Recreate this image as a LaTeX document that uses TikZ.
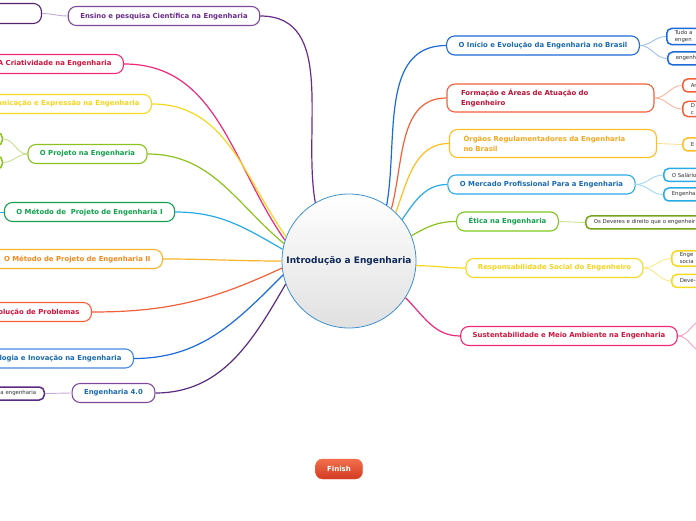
\documentclass[tikz,border=0pt]{standalone}
\usepackage{fontspec}
\setmainfont{DejaVu Sans}
\definecolor{cPurp}{HTML}{6A2A8A}
\definecolor{cLPurp}{HTML}{C4AAD6}
\definecolor{cVio}{HTML}{5A2A80}
\definecolor{cPink}{HTML}{F0287A}
\definecolor{cLPink}{HTML}{F7A0C4}
\definecolor{cCrim}{HTML}{D0143C}
\definecolor{cYel}{HTML}{F5D820}
\definecolor{cLYel}{HTML}{F8E98A}
\definecolor{cOli}{HTML}{8CC21E}
\definecolor{cLOli}{HTML}{C6E08E}
\definecolor{cGrn}{HTML}{12A04C}
\definecolor{cSky}{HTML}{28AAE8}
\definecolor{cLSky}{HTML}{A0D8F4}
\definecolor{cOrg}{HTML}{F8B428}
\definecolor{cLOrg}{HTML}{FBDD94}
\definecolor{cOTx}{HTML}{F08A1E}
\definecolor{cAmb}{HTML}{FFBE22}
\definecolor{cATx}{HTML}{F5A820}
\definecolor{cTan}{HTML}{F2603A}
\definecolor{cLTan}{HTML}{F8B4A0}
\definecolor{cBlu}{HTML}{1A6AD8}
\definecolor{cLBlu}{HTML}{9CC0F0}
\definecolor{cBTx}{HTML}{1A6AB0}
\definecolor{cNavy}{HTML}{0F2A5A}
\definecolor{cRing}{HTML}{3A90D0}
\definecolor{cDim}{HTML}{333333}

\begin{document}
\begin{tikzpicture}[x=1pt,y=1pt,
  mn/.style 2 args={draw=#1,text=#2,fill=white,rounded corners=8pt,line width=1.1pt,
              minimum height=19pt,inner xsep=12pt,font=\bfseries\fontsize{6.9}{10.5}\selectfont},
  tw/.style={text width=179pt,align=left,inner xsep=14pt,minimum height=28pt},
  lf/.style={draw=#1,fill=white,rounded corners=5pt,line width=1.5pt,minimum height=13pt,
              inner xsep=8pt,inner ysep=2pt,text=cDim,font=\fontsize{5.4}{7}\selectfont},
  lw/.style={lf=#1,anchor=west,text width=60pt,align=left},
  ln/.style={draw=#1,line width=1.2pt},
  lk/.style={draw=#1,line width=0.9pt}
]
\clip (0,0) rectangle (696,520);
\node[circle,draw=cRing,line width=0.8pt,top color=white,bottom color=black!12,minimum size=134pt,
      inner sep=0pt,text=cNavy,font=\bfseries\fontsize{9}{11}\selectfont] (c) at (349,259) {Introdução a Engenharia};

\node[mn={cPurp!80!black}{cPurp},anchor=east,minimum width=70pt,minimum height=20pt] (tr) at (42,506.5) {};
\node[mn={cPurp!85}{cPurp}] (ens) at (164,504) {Ensino e pesquisa Científica na Engenharia};
\node[mn={cPink}{cCrim},anchor=east] (cri) at (124,456) {A Criatividade na Engenharia};
\node[mn={cYel}{cYel!95!orange},anchor=east] (com) at (152,416) {Comunicação e Expressão na Engenharia};
\node[mn={cOli}{cGrn}] (pro) at (87.5,366) {O Projeto na Engenharia};
\node[lf=cOli,anchor=east,minimum width=24pt] (pl1) at (3,381) {};
\node[lf=cOli,anchor=east,minimum width=24pt] (pl2) at (3,357.5) {};
\node[mn={cGrn}{cGrn}] (m1) at (89.5,308) {O Método de~ Projeto de Engenharia I};
\coordinate (m1l) at (-15,308);
\node[mn={cOrg}{cOTx},anchor=east] (m2) at (163,261) {O Método de Projeto de Engenharia II};
\node[mn={cTan}{cCrim},anchor=east] (res) at (92,208) {Resolução de Problemas};
\node[mn={cBlu!80}{cBTx},anchor=east] (tec) at (134,161.5) {Tecnologia e Inovação na Engenharia};
\node[mn={cPurp!85}{cBTx}] (e40) at (113.5,127) {Engenharia 4.0};
\node[lf=cVio,anchor=east,text width=60pt,align=right] (e4l) at (45,126.5) {a engenharia};

\node[mn={cBlu}{cBTx}] (ini) at (543,474.5) {O Início e Evolução da Engenharia no Brasil};
\node[lw=cBlu] (ini1) at (666,483.5) {Tudo a\\engen};
\node[lw=cBlu] (ini2) at (667,461.5) {engenha};
\node[mn={cTan}{cCrim!90!black},tw] (for) at (550.5,422) {Formação e Áreas de Atuação do\\Engenheiro};
\node[lw=cTan] (for1) at (682,434.5) {Ar};
\node[lw=cTan] (for2) at (682,411) {D\\c};
\node[mn={cAmb}{cATx},tw] (org) at (553,376.5) {Órgãos Regulamentadores da Engenharia\\no Brasil};
\node[lw=cAmb] (org1) at (682,375.5) {E};
\node[mn={cSky}{cBTx}] (mer) at (541.5,335.5) {O Mercado Profissional Para a Engenharia};
\node[lw=cSky] (mer1) at (663,345) {O Salário};
\node[lw=cSky] (mer2) at (663,325.5) {Engenha};
\node[mn={cOli!90!green}{cGrn}] (eti) at (507.5,298.5) {Ética na Engenharia};
\node[lf=cOli!85!black,anchor=west,text width=130pt,align=left] (eti1) at (585,297.5) {Os Deveres e direito que o engenheir};
\node[mn={cYel}{cYel!95!orange}] (soc) at (554.5,252) {Responsabilidade Social do Engenheiro};
\node[lw=cYel] (soc1) at (671,261.5) {Enge\\socia};
\node[lw=cYel] (soc2) at (671,239) {Deve-};
\node[mn={cPink}{cCrim}] (sus) at (569,184) {Sustentabilidade e Meio Ambiente na Engenharia};
\coordinate (sus1) at (704,200);
\coordinate (sus2) at (704,168);

\node[draw=cTan,top color=cTan!90!white,bottom color=cTan!70!red!85!black,rounded corners=7pt,
      minimum width=47pt,minimum height=20pt,text=white,font=\bfseries\fontsize{7}{8}\selectfont] (fin) at (339,51) {Finish};

\draw[ln=cPurp] (ens.east) to[out=0,in=100] (c.120);
\draw[ln=cPink] (cri.east) to[out=0,in=125] (c.162);
\draw[ln=cYel] (com.east) to[out=0,in=125] (c.159);
\draw[ln=cOli] (pro.east) to[out=0,in=140] (c.165);
\draw[ln=cSky] (m1.east) to[out=0,in=150] (c.170);
\draw[ln=cOrg] (m2.east) to[out=0,in=180] (c.180);
\draw[ln=cTan] (res.east) to[out=0,in=205] (c.186);
\draw[ln=cBlu] (tec.east) to[out=0,in=225] (c.192);
\draw[ln=cVio] (e40.east) to[out=0,in=240] (c.200);
\draw[ln=cBlu] (c.56) to[out=80,in=180] (ini.west);
\draw[ln=cTan] (c.51) to[out=75,in=180] (for.west);
\draw[ln=cAmb] (c.46) to[out=70,in=180] (org.west);
\draw[ln=cSky] (c.38) to[out=55,in=180] (mer.west);
\draw[ln=cOli] (c.22) to[out=30,in=180] (eti.west);
\draw[ln=cYel] (c.-4) to[out=0,in=180] (soc.west);
\draw[ln=cPink] (c.-33) to[out=-45,in=180] (sus.west);

\draw[lk=cLPurp] (tr.east) to[out=0,in=180] (ens.west);
\draw[lk=cLOli] (pro.west) to[out=180,in=0] (pl1.east); \draw[lk=cLOli] (pro.west) to[out=180,in=0] (pl2.east);
\draw[lk=cSky] (m1.west) -- (m1l);
\draw[lk=cLPurp] (e40.west) -- (e4l.east);
\draw[lk=cLBlu] (ini.east) to[out=0,in=180] (ini1.west); \draw[lk=cLBlu] (ini.east) to[out=0,in=180] (ini2.west);
\draw[lk=cLTan] (for.east) to[out=0,in=180] (for1.west); \draw[lk=cLTan] (for.east) to[out=0,in=180] (for2.west);
\draw[lk=cLOrg] (org.east) -- (org1.west);
\draw[lk=cLSky] (mer.east) to[out=0,in=180] (mer1.west); \draw[lk=cLSky] (mer.east) to[out=0,in=180] (mer2.west);
\draw[lk=cLOli] (eti.east) -- (eti1.west);
\draw[lk=cLYel] (soc.east) to[out=0,in=180] (soc1.west); \draw[lk=cLYel] (soc.east) to[out=0,in=180] (soc2.west);
\draw[lk=cLPink] (sus.east) to[out=0,in=180] (sus1); \draw[lk=cLPink] (sus.east) to[out=0,in=180] (sus2);
\end{tikzpicture}
\end{document}
